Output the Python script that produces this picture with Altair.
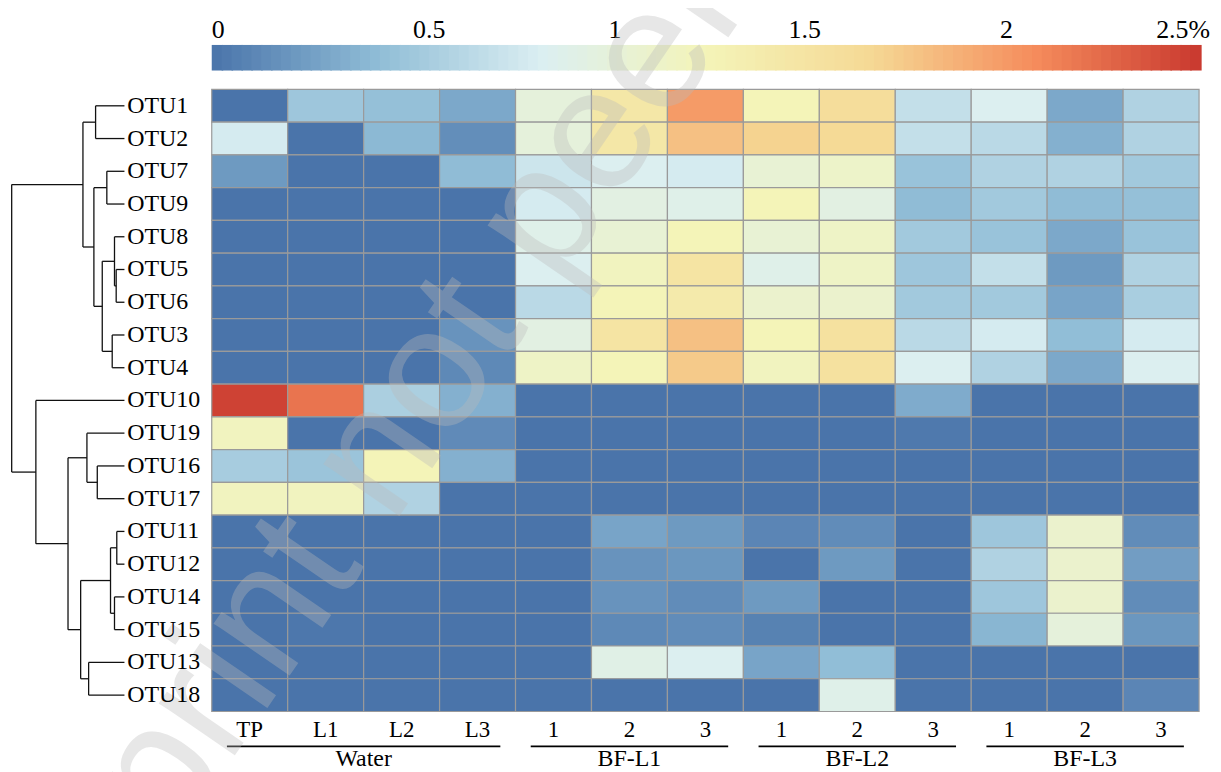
import altair as alt
import pandas as pd

# ---------------- data ----------------
otu_order = ["OTU1", "OTU2", "OTU7", "OTU9", "OTU8", "OTU5", "OTU6", "OTU3", "OTU4",
             "OTU10", "OTU19", "OTU16", "OTU17", "OTU11", "OTU12", "OTU14", "OTU15",
             "OTU13", "OTU18"]

col_groups = ["Water"] * 4 + ["BF-L1"] * 3 + ["BF-L2"] * 3 + ["BF-L3"] * 3
col_labels = ["TP", "L1", "L2", "L3", "1", "2", "3", "1", "2", "3", "1", "2", "3"]

# relative abundance (%) per OTU (rows, in otu_order) and sample (columns)
abund = [
    [0.00, 0.50, 0.45, 0.30, 1.00, 1.45, 2.00, 1.25, 1.60, 0.70, 0.85, 0.30, 0.60],  # OTU1
    [0.80, 0.00, 0.40, 0.15, 1.00, 1.45, 1.80, 1.70, 1.65, 0.70, 0.65, 0.35, 0.60],  # OTU2
    [0.22, 0.00, 0.00, 0.42, 0.75, 0.85, 0.80, 1.05, 1.13, 0.47, 0.60, 0.60, 0.52],  # OTU7
    [0.00, 0.00, 0.00, 0.00, 0.80, 0.95, 0.90, 1.25, 0.95, 0.42, 0.52, 0.42, 0.45],  # OTU9
    [0.00, 0.00, 0.00, 0.00, 0.90, 1.05, 1.25, 1.05, 1.15, 0.52, 0.47, 0.30, 0.47],  # OTU8
    [0.00, 0.00, 0.00, 0.00, 0.85, 1.20, 1.50, 0.90, 1.15, 0.50, 0.70, 0.22, 0.60],  # OTU5
    [0.00, 0.00, 0.00, 0.00, 0.65, 1.25, 1.40, 1.10, 1.10, 0.52, 0.52, 0.28, 0.56],  # OTU6
    [0.00, 0.00, 0.00, 0.18, 0.95, 1.50, 1.80, 1.25, 1.55, 0.65, 0.80, 0.43, 0.80],  # OTU3
    [0.00, 0.00, 0.00, 0.12, 1.15, 1.25, 1.75, 1.20, 1.55, 0.85, 0.60, 0.30, 0.85],  # OTU4
    [2.45, 2.20, 0.57, 0.35, 0.00, 0.00, 0.00, 0.00, 0.00, 0.32, 0.00, 0.00, 0.00],  # OTU10
    [1.20, 0.00, 0.00, 0.13, 0.00, 0.00, 0.00, 0.00, 0.00, 0.03, 0.00, 0.00, 0.00],  # OTU19
    [0.55, 0.48, 1.25, 0.35, 0.00, 0.00, 0.00, 0.00, 0.00, 0.00, 0.00, 0.00, 0.00],  # OTU16
    [1.20, 1.20, 0.60, 0.00, 0.00, 0.00, 0.00, 0.00, 0.00, 0.00, 0.00, 0.00, 0.00],  # OTU17
    [0.00, 0.00, 0.00, 0.00, 0.00, 0.28, 0.22, 0.10, 0.14, 0.00, 0.50, 1.10, 0.14],  # OTU11
    [0.00, 0.00, 0.00, 0.00, 0.00, 0.18, 0.20, 0.00, 0.22, 0.00, 0.60, 1.10, 0.24],  # OTU12
    [0.00, 0.00, 0.00, 0.00, 0.00, 0.18, 0.14, 0.22, 0.00, 0.00, 0.50, 1.10, 0.14],  # OTU14
    [0.00, 0.02, 0.00, 0.00, 0.00, 0.12, 0.14, 0.08, 0.00, 0.00, 0.38, 1.00, 0.20],  # OTU15
    [0.00, 0.00, 0.00, 0.00, 0.00, 0.92, 0.85, 0.28, 0.43, 0.00, 0.00, 0.00, 0.00],  # OTU13
    [0.00, 0.00, 0.00, 0.00, 0.00, 0.00, 0.00, 0.00, 0.90, 0.00, 0.00, 0.00, 0.10],  # OTU18
]

# hierarchical clustering merges: (left, right, height)
merges = [
    ("OTU1", "OTU2", 29.0),      # m0
    ("OTU7", "OTU9", 17.7),      # m1
    ("OTU5", "OTU6", 8.3),       # m2
    ("OTU8", "m2", 10.0),        # m3
    ("OTU3", "OTU4", 12.3),      # m4
    ("m3", "m4", 22.3),          # m5
    ("m1", "m5", 30.7),          # m6
    ("m0", "m6", 41.7),          # m7
    ("OTU16", "OTU17", 27.3),    # m8
    ("OTU19", "m8", 37.7),       # m9
    ("OTU11", "OTU12", 7.7),     # m10
    ("OTU14", "OTU15", 10.0),    # m11
    ("m10", "m11", 14.0),        # m12
    ("OTU13", "OTU18", 36.0),    # m13
    ("m12", "m13", 44.0),        # m14
    ("m9", "m14", 56.7),         # m15
    ("OTU10", "m15", 89.0),      # m16
    ("m7", "m16", 113.3),        # m17
]

group_names = ["Water", "BF-L1", "BF-L2", "BF-L3"]
group_sizes = [4, 3, 3, 3]

legend_ticks = [0.0, 0.55, 1.02, 1.5, 2.01, 2.5]
legend_text = ["0", "0.5", "1", "1.5", "2", "2.5%"]

palette = ["#4a74aa", "#8fbcd6", "#dbeff2", "#f4f4b8", "#f5d995", "#f58c5c", "#c9382f"]
vmax = 2.5

# ---------------- layout ----------------
W = 992
H = 625
FONT = "Liberation Serif"

# ---------------- frames ----------------
col_ids = [f"{g}|{l}|{i}" for i, (g, l) in enumerate(zip(col_groups, col_labels))]
heat_rows = []
for r, otu in enumerate(otu_order):
    for c, cid in enumerate(col_ids):
        heat_rows.append({"otu": otu, "col": cid, "value": abund[r][c]})
heat_df = pd.DataFrame(heat_rows)

# dendrogram segments
pos = {o: i + 0.5 for i, o in enumerate(otu_order)}
hgt = {o: 0.0 for o in otu_order}
segs = []
for k, (a, b, h) in enumerate(merges):
    ya, yb = pos[a], pos[b]
    segs.append({"h1": h, "h2": h, "p1": ya, "p2": yb})
    segs.append({"h1": hgt[a], "h2": h, "p1": ya, "p2": ya})
    segs.append({"h1": hgt[b], "h2": h, "p1": yb, "p2": yb})
    name = f"m{k}"
    pos[name] = (ya + yb) / 2
    hgt[name] = h
seg_df = pd.DataFrame(segs)

nsteps = 100
bar_df = pd.DataFrame({
    "v0": [vmax * i / nsteps for i in range(nsteps)],
    "v1": [vmax * (i + 1) / nsteps + 0.004 for i in range(nsteps)],
    "value": [vmax * (i + 0.5) / nsteps for i in range(nsteps)],
})
leg_df = pd.DataFrame({"at": legend_ticks, "txt": legend_text})

starts = [sum(group_sizes[:i]) for i in range(len(group_sizes))]
grp_df = pd.DataFrame({
    "name": group_names,
    "g0": [s + 0.2 for s in starts],
    "g1": [s + n - 0.2 for s, n in zip(starts, group_sizes)],
    "mid": [s + n / 2 for s, n in zip(starts, group_sizes)],
})

color_scale = alt.Scale(domain=[vmax * i / 6 for i in range(7)], range=palette,
                        interpolate="rgb")

# ---------------- layers ----------------
heat = alt.Chart(heat_df).mark_rect(stroke="#9a9a9a", strokeWidth=1.2).encode(
    x=alt.X("col:N", sort=col_ids,
            scale=alt.Scale(paddingInner=0, paddingOuter=0),
            axis=alt.Axis(orient="bottom", title=None, labelAngle=0,
                          labelExpr="split(datum.label, '|')[1]",
                          ticks=False, tickSize=0, domain=False, labelPadding=7,
                          labelFont=FONT, labelFontSize=23, labelColor="black",
                          labelBaseline="top")),
    y=alt.Y("otu:N", sort=otu_order,
            scale=alt.Scale(paddingInner=0, paddingOuter=0),
            axis=alt.Axis(orient="left", title=None, ticks=False, tickSize=0,
                          domain=False, labelAlign="left", labelPadding=85.5,
                          labelFont=FONT, labelFontSize=24, labelColor="black",
                          labelBaseline="middle")),
    color=alt.Color("value:Q", scale=color_scale, legend=None),
)

dendro = alt.Chart(seg_df).mark_rule(color="#111111", strokeWidth=1.3).encode(
    x=alt.X("h1:Q", scale=alt.Scale(domain=[0, 113.3], range=[-87.7, -201.0], nice=False, zero=False), axis=None),
    x2="h2:Q",
    y=alt.Y("p1:Q", scale=alt.Scale(domain=[0, 19], range=[0, H], nice=False, zero=False), axis=None),
    y2="p2:Q",
)

cbar = alt.Chart(bar_df).mark_rect().encode(
    x=alt.X("v0:Q", scale=alt.Scale(domain=[0, vmax], range=[0, W + 1], nice=False), axis=None),
    x2="v1:Q",
    y=alt.value(-44.7),
    y2=alt.value(-19),
    color=alt.Color("value:Q", scale=color_scale, legend=None),
)

leg_scale = alt.Scale(domain=[0, vmax], range=[0, W + 1], nice=False)
leg_first = alt.Chart(leg_df.iloc[[0]]).mark_text(
    align="left", baseline="alphabetic", font=FONT, fontSize=26, color="black"
).encode(x=alt.X("at:Q", scale=leg_scale, axis=None), y=alt.value(-51.5), text="txt:N")
leg_mid = alt.Chart(leg_df.iloc[1:-1]).mark_text(
    align="center", baseline="alphabetic", font=FONT, fontSize=26, color="black"
).encode(x=alt.X("at:Q", scale=leg_scale, axis=None), y=alt.value(-51.5), text="txt:N")
leg_last = alt.Chart(leg_df.iloc[[-1]]).mark_text(
    align="right", baseline="alphabetic", font=FONT, fontSize=26, color="black", dx=10
).encode(x=alt.X("at:Q", scale=leg_scale, axis=None), y=alt.value(-51.5), text="txt:N")

grp_scale = alt.Scale(domain=[0, 13], range=[0, W], nice=False, zero=False)
grp_lines = alt.Chart(grp_df).mark_rule(color="black", strokeWidth=1.6).encode(
    x=alt.X("g0:Q", scale=grp_scale, axis=None),
    x2="g1:Q",
    y=alt.value(H + 35),
)
grp_text = alt.Chart(grp_df).mark_text(
    baseline="alphabetic", align="center", font=FONT, fontSize=24, color="black"
).encode(
    x=alt.X("mid:Q", scale=grp_scale, axis=None),
    y=alt.value(H + 55),
    text="name:N",
)

wm_df = pd.DataFrame({"t": ["preprint not peer reviewed"]})
watermark = alt.Chart(wm_df).mark_text(
    angle=304.5, fontSize=175, font="Liberation Sans", color="#bbbbbb", opacity=0.35,
    align="center", baseline="middle"
).encode(x=alt.value(350), y=alt.value(100), text="t:N")

chart = alt.layer(
    heat, dendro, cbar, leg_first, leg_mid, leg_last, grp_lines, grp_text, watermark
).resolve_scale(
    x="independent", y="independent"
).properties(
    width=W, height=H,
    autosize=alt.AutoSizeParams(type="none"),
    padding={"left": 204.7, "top": 80, "right": 14, "bottom": 66},
).configure_view(stroke=None)

chart.save("out.html", embed_options={"renderer": "svg", "actions": False})
